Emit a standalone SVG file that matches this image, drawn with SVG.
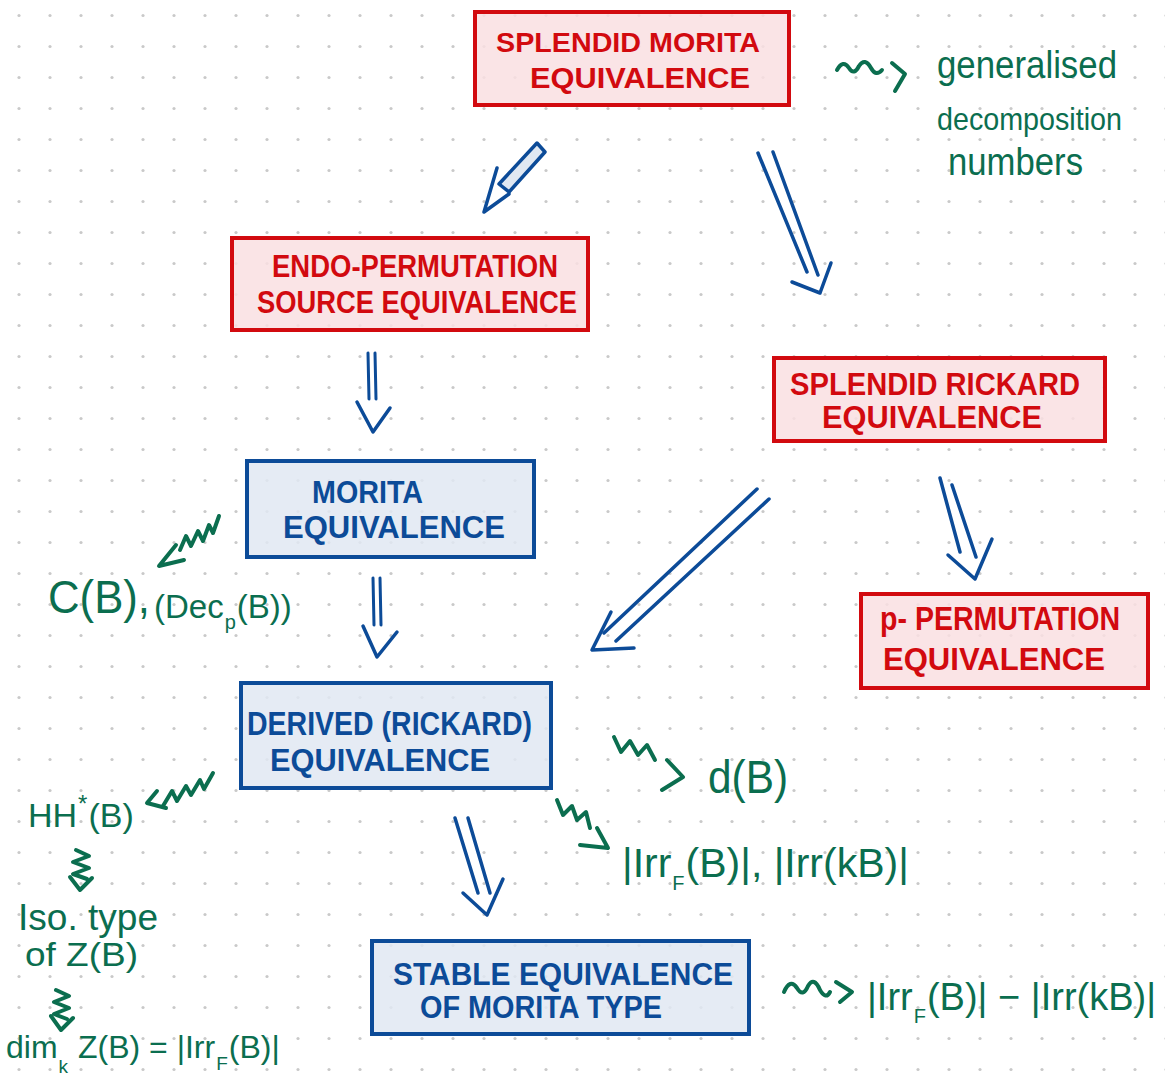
<svg xmlns="http://www.w3.org/2000/svg" width="1165" height="1083" viewBox="0 0 1165 1083">
<defs>
<pattern id="dots" patternUnits="userSpaceOnUse" x="0" y="0" width="31" height="31">
<circle cx="19" cy="15.5" r="1.6" fill="#c9c9c9"/>
</pattern>
<style>
.nr rect{fill:#f9dfe2;fill-opacity:.85;stroke:#d20a0f;stroke-width:4}
.nb rect{fill:#e0e8f2;fill-opacity:.85;stroke:#0c4b98;stroke-width:4}
.tr{fill:#d20a0f;font-family:"Liberation Sans",Arial,sans-serif;font-weight:bold}
.tb{fill:#0c4b98;font-family:"Liberation Sans",Arial,sans-serif;font-weight:bold}
.arr{fill:none;stroke:#0c4b98;stroke-width:3.5;stroke-linecap:round;stroke-linejoin:round}
.sq{fill:none;stroke:#0b6e4f;stroke-width:4;stroke-linecap:round;stroke-linejoin:round}
.g{fill:#0b6e4f;font-family:"Liberation Sans",Arial,sans-serif}
</style>
</defs>
<rect width="1165" height="1083" fill="#ffffff"/>
<rect width="1165" height="1083" fill="url(#dots)"/>

<g id="connectors">
<!-- Splendid Morita -> Endo-permutation (hollow arrow) -->
<polygon class="arr" points="537,143 545,152 509,192 499,184" style="fill:#e0e8f2"/>
<polyline class="arr" points="497,168 484,212 509,194"/>
<!-- Splendid Morita -> Splendid Rickard -->
<path class="arr" d="M758 153 L807 272 M773 152 L818 275"/>
<polyline class="arr" points="792,282 820,293 831,263"/>
<!-- Endo -> Morita -->
<path class="arr" d="M368 353 L369 399 M375 353 L376 399" style="stroke-width:3"/>
<polyline class="arr" points="357,402 373,432 390,408"/>
<!-- Morita -> Derived -->
<path class="arr" d="M373 578 L374 625 M380 578 L381 625" style="stroke-width:3"/>
<polyline class="arr" points="363,626 377,657 397,632"/>
<!-- Splendid Rickard -> Derived -->
<path class="arr" d="M757 489 L604 633 M769 499 L616 641"/>
<polyline class="arr" points="611,612 592,650 634,648"/>
<!-- Splendid Rickard -> p-permutation -->
<path class="arr" d="M940 478 L960 552 M952 485 L976 557"/>
<polyline class="arr" points="948,555 975,579 992,539"/>
<!-- Derived -> Stable -->
<path class="arr" d="M455 818 L478 893 M468 818 L490 893"/>
<polyline class="arr" points="463,893 487,915 503,879"/>

<!-- green squiggly "leads to" arrows -->
<path class="sq" d="M837 70 Q843 59 849 68 Q854 76 859 66 Q865 57 871 68 Q876 77 882 70"/>
<polyline class="sq" points="892,63 905,74 895,91"/>

<path class="sq" d="M180 550 L186 536 L191 546 L198 531 L203 541 L209 525 L213 533 L219 516"/>
<polyline class="sq" points="176,545 159,566 184,560"/>

<path class="sq" d="M163 806 L172 791 L177 801 L186 786 L191 795 L200 780 L204 789 L213 773"/>
<polyline class="sq" points="157,791 147,803 166,808"/>

<path class="sq" d="M76 850 L89 856 L73 862 L89 868 L73 874 L87 879"/>
<polyline class="sq" points="70,877 80,890 92,878"/>
<path class="sq" d="M56 990 L69 996 L54 1002 L69 1008 L54 1014 L67 1019"/>
<polyline class="sq" points="51,1016 61,1030 73,1018"/>

<path class="sq" d="M614 737 L621 752 L630 741 L638 755 L647 745 L655 760"/>
<polyline class="sq" points="667,760 683,777 662,790"/>

<path class="sq" d="M557 800 L563 815 L572 806 L577 820 L586 812 L590 828"/>
<polyline class="sq" points="597,828 608,848 580,845"/>

<path class="sq" d="M784 992 Q790 978 797 988 Q803 998 808 986 Q814 976 820 990 Q826 1000 830 992"/>
<polyline class="sq" points="836,982 852,992 840,1002"/>
</g>

<g id="splendid-morita" class="nr">
<rect x="475" y="12" width="314" height="93"/>
<text class="tr" x="496" y="52" font-size="28" textLength="264" lengthAdjust="spacingAndGlyphs">SPLENDID MORITA</text>
<text class="tr" x="530" y="88" font-size="29" textLength="220" lengthAdjust="spacingAndGlyphs">EQUIVALENCE</text>
</g>

<g id="endo-permutation" class="nr">
<rect x="232" y="238" width="356" height="92"/>
<text class="tr" x="272" y="277" font-size="32" textLength="286" lengthAdjust="spacingAndGlyphs">ENDO-PERMUTATION</text>
<text class="tr" x="257" y="313" font-size="32" textLength="320" lengthAdjust="spacingAndGlyphs">SOURCE EQUIVALENCE</text>
</g>

<g id="splendid-rickard" class="nr">
<rect x="774" y="358" width="331" height="83"/>
<text class="tr" x="790" y="395" font-size="31" textLength="290" lengthAdjust="spacingAndGlyphs">SPLENDID RICKARD</text>
<text class="tr" x="822" y="428" font-size="31" textLength="220" lengthAdjust="spacingAndGlyphs">EQUIVALENCE</text>
</g>

<g id="p-permutation" class="nr">
<rect x="861" y="594" width="287" height="94"/>
<text class="tr" x="880" y="630" font-size="34" textLength="240" lengthAdjust="spacingAndGlyphs">p- PERMUTATION</text>
<text class="tr" x="883" y="670" font-size="31" textLength="222" lengthAdjust="spacingAndGlyphs">EQUIVALENCE</text>
</g>

<g id="morita" class="nb">
<rect x="247" y="461" width="287" height="96"/>
<text class="tb" x="312" y="503" font-size="32" textLength="111" lengthAdjust="spacingAndGlyphs">MORITA</text>
<text class="tb" x="283" y="538" font-size="31" textLength="222" lengthAdjust="spacingAndGlyphs">EQUIVALENCE</text>
</g>

<g id="derived" class="nb">
<rect x="241" y="683" width="310" height="105"/>
<text class="tb" x="247" y="735" font-size="33" textLength="285" lengthAdjust="spacingAndGlyphs">DERIVED (RICKARD)</text>
<text class="tb" x="270" y="771" font-size="31" textLength="220" lengthAdjust="spacingAndGlyphs">EQUIVALENCE</text>
</g>

<g id="stable" class="nb">
<rect x="372" y="941" width="377" height="93"/>
<text class="tb" x="393" y="985" font-size="31" textLength="340" lengthAdjust="spacingAndGlyphs">STABLE EQUIVALENCE</text>
<text class="tb" x="420" y="1018" font-size="31" textLength="242" lengthAdjust="spacingAndGlyphs">OF MORITA TYPE</text>
</g>

<g id="annotations">
<text class="g" x="937" y="78" font-size="38" textLength="180" lengthAdjust="spacingAndGlyphs">generalised</text>
<text class="g" x="937" y="130" font-size="32" textLength="185" lengthAdjust="spacingAndGlyphs">decomposition</text>
<text class="g" x="948" y="175" font-size="38" textLength="135" lengthAdjust="spacingAndGlyphs">numbers</text>

<text class="g" x="48" y="613" font-size="46" textLength="102" lengthAdjust="spacingAndGlyphs">C(B),</text>
<text class="g" x="154" y="618" font-size="33">(Dec<tspan font-size="20" dx="1" dy="11">p</tspan><tspan dx="1" dy="-11">(B))</tspan></text>

<text class="g" x="28" y="827" font-size="34">HH<tspan font-size="24" dx="1" dy="-15">*</tspan><tspan dx="1" dy="15">(B)</tspan></text>

<text class="g" x="18" y="930" font-size="36" textLength="140" lengthAdjust="spacingAndGlyphs">Iso. type</text>
<text class="g" x="25" y="966" font-size="34" textLength="113" lengthAdjust="spacingAndGlyphs">of Z(B)</text>

<text class="g" x="6" y="1058" font-size="32">dim<tspan font-size="19" dx="1" dy="15">k</tspan><tspan dx="1" dy="-15"> Z(B) = |Irr</tspan><tspan font-size="19" dx="1" dy="12">F</tspan><tspan dx="1" dy="-12">(B)|</tspan></text>

<text class="g" x="708" y="793" font-size="46" textLength="80" lengthAdjust="spacingAndGlyphs">d(B)</text>

<text class="g" x="622" y="877" font-size="41">|Irr<tspan font-size="20" dx="1" dy="13">F</tspan><tspan dx="1" dy="-13">(B)|, |Irr(kB)|</tspan></text>

<text class="g" x="867" y="1010" font-size="38">|Irr<tspan font-size="20" dx="1" dy="13">F</tspan><tspan dx="1" dy="-13">(B)| − |Irr(kB)|</tspan></text>
</g>
</svg>
